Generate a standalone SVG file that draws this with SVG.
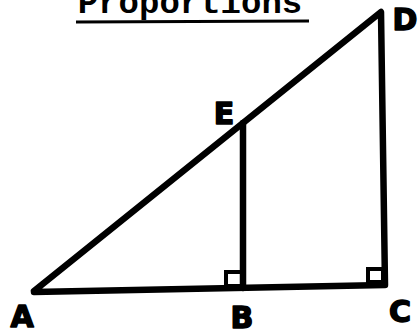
<svg xmlns="http://www.w3.org/2000/svg" width="419" height="334" viewBox="0 0 419 334">
<style>
.ln{stroke:#000;stroke-width:6.5;stroke-linecap:round;stroke-linejoin:round;fill:none}
.sq{stroke:#000;stroke-width:4;fill:none}
.lb{font-family:"DejaVu Sans",sans-serif;font-weight:bold;font-size:30px;fill:#000;stroke:#000;stroke-width:1.5;stroke-linejoin:round}
</style>
<rect width="419" height="334" fill="#fff"/>
<g id="title">
<text x="190" y="13" text-anchor="middle" font-family="Liberation Mono, monospace" font-size="34" font-weight="bold" fill="#000">Proportions</text>
<line x1="76" y1="22" x2="309" y2="21" stroke="#000" stroke-width="3"/>
</g>
<g id="connectors">
<path class="ln" d="M34 291 L381 12 L385 285 L34 292"/>
<line class="ln" x1="243" y1="123" x2="243" y2="288"/>
<rect class="sq" x="226" y="272" width="16" height="14"/>
<rect class="sq" x="368" y="269" width="15" height="13"/>
</g>
<g id="A"><text class="lb" x="22" y="327" text-anchor="middle">A</text></g>
<g id="B"><text class="lb" x="242" y="328" text-anchor="middle">B</text></g>
<g id="C"><text class="lb" x="400" y="322" text-anchor="middle">C</text></g>
<g id="D"><text class="lb" x="405" y="30" text-anchor="middle">D</text></g>
<g id="E"><text class="lb" x="224" y="124" text-anchor="middle">E</text></g>
</svg>
